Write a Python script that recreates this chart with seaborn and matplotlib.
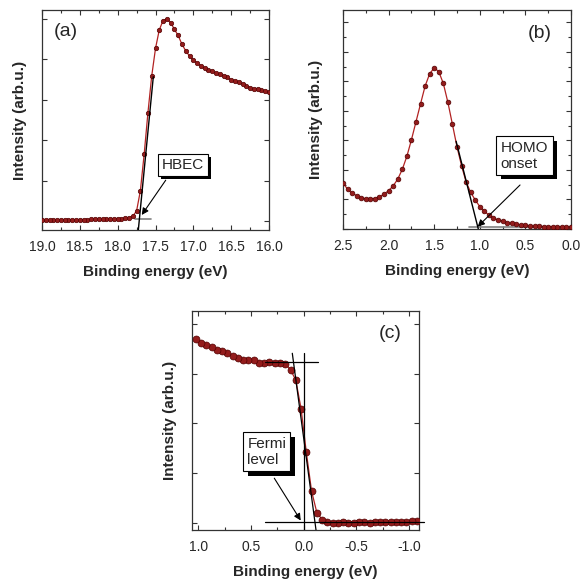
import numpy as np
import pandas as pd
import matplotlib
matplotlib.use('Agg')
import matplotlib.pyplot as plt
import matplotlib.patheffects as pe
from matplotlib.ticker import MultipleLocator
import seaborn as sns

sns.set_style('ticks')
plt.rcParams['font.family'] = ['Liberation Sans', 'DejaVu Sans']

# ---- panel (a): secondary electron cutoff ----
energy_a = np.round(np.arange(19.0, 15.99, -0.05), 2)
intensity_a = [0.02, 0.02, 0.02, 0.02, 0.02, 0.02, 0.02, 0.03, 0.03, 0.03,
               0.03, 0.03, 0.03, 0.04, 0.04, 0.04, 0.04, 0.04, 0.05, 0.05,
               0.05, 0.06, 0.07, 0.08, 0.12, 0.25, 0.75, 1.65, 2.68, 3.59,
               4.27, 4.73, 4.96, 5.00, 4.91, 4.74, 4.59, 4.37, 4.21, 4.08,
               3.98, 3.91, 3.84, 3.78, 3.74, 3.70, 3.66, 3.63, 3.59, 3.56,
               3.49, 3.47, 3.43, 3.39, 3.35, 3.30, 3.27, 3.26, 3.24, 3.22,
               3.19]

# ---- panel (b): HOMO region ----
energy_b = np.round(np.arange(2.5, -0.01, -0.05), 2)
intensity_b = [1.55, 1.35, 1.21, 1.13, 1.06, 1.02, 1.03, 1.03, 1.09, 1.18,
               1.30, 1.46, 1.69, 2.02, 2.46, 3.02, 3.63, 4.24, 4.84, 5.26,
               5.46, 5.33, 4.93, 4.29, 3.54, 2.78, 2.14, 1.59, 1.24, 0.98,
               0.76, 0.60, 0.47, 0.36, 0.31, 0.26, 0.21, 0.19, 0.16, 0.14,
               0.13, 0.10, 0.09, 0.09, 0.08, 0.08, 0.08, 0.07, 0.07, 0.06,
               0.06]

# ---- panel (c): Fermi edge ----
energy_c = np.round(np.arange(1.025, -1.08, -0.05), 3)
intensity_c = [3.70, 3.62, 3.57, 3.53, 3.48, 3.46, 3.42, 3.36, 3.32, 3.28,
               3.27, 3.27, 3.22, 3.22, 3.24, 3.21, 3.22, 3.20, 3.08, 2.87,
               2.30, 1.42, 0.64, 0.21, 0.07, 0.02, 0.00, 0.00, 0.01, 0.00,
               0.00, 0.01, 0.01, 0.00, 0.01, 0.01, 0.02, 0.01, 0.02, 0.02,
               0.02, 0.03, 0.03]

# construction lines: (x0, x1), (y0, y1)
tangent_a = ([17.727, 17.529], [-0.22, 3.57])
base_a = ([17.77, 17.56], [0.05, 0.05])
tangent_b = ([1.26, 1.015], [2.97, -0.02])
base_b = ([1.12, 0.0], [0.06, 0.06])
top_c = ([0.37, -0.14], [3.23, 3.23])
zero_c = ([0.0, 0.0], [3.41, -0.14])
tangent_c = ([0.108, -0.117], [3.41, -0.14])
base_c = ([0.37, -1.14], [0.02, 0.02])

DOT_FACE = '#931c1c'
DOT_EDGE = '#520000'
LINE_COL = '#b22222'
FRAME = '#333333'

fig = plt.figure(figsize=(5.81, 5.80), dpi=100)
ax_a = fig.add_axes([0.0723, 0.6034, 0.3907, 0.3793])
ax_b = fig.add_axes([0.5904, 0.6047, 0.3924, 0.3781])
ax_c = fig.add_axes([0.3305, 0.0862, 0.3907, 0.3776])


def draw_spectrum(ax, energy, intensity, ms):
    df = pd.DataFrame({'energy': energy, 'intensity': intensity})
    sns.lineplot(data=df, x='energy', y='intensity', ax=ax, color=LINE_COL,
                 lw=0.9, marker='o', markersize=ms, markerfacecolor=DOT_FACE,
                 markeredgecolor=DOT_EDGE, markeredgewidth=0.5, zorder=3)


def style_axes(ax, xlim, ylim, ymajor, yminor=None):
    ax.set_xlim(*xlim)
    ax.set_ylim(*ylim)
    ax.xaxis.set_major_locator(MultipleLocator(0.5))
    ax.xaxis.set_minor_locator(MultipleLocator(0.25))
    ax.yaxis.set_major_locator(MultipleLocator(ymajor))
    if yminor:
        ax.yaxis.set_minor_locator(MultipleLocator(yminor))
    ax.tick_params(which='both', direction='in', top=True, right=True,
                   color=FRAME, width=0.8)
    ax.tick_params(which='major', length=3.5)
    ax.tick_params(which='minor', length=2.2)
    ax.tick_params(axis='x', labelsize=10, pad=7)
    ax.tick_params(axis='y', labelleft=False)
    ax.xaxis.set_major_formatter(matplotlib.ticker.FormatStrFormatter('%.1f'))
    for s in ax.spines.values():
        s.set_color(FRAME)
        s.set_linewidth(0.9)
    ax.set_xlabel('Binding energy (eV)', fontsize=11, fontweight='bold', labelpad=8)
    ax.set_ylabel('Intensity (arb.u.)', fontsize=11, fontweight='bold', labelpad=11)


def shadow_box(ax, x, y, text, off):
    t = ax.text(x, y, text, ha='center', va='center', fontsize=11,
                multialignment='left', zorder=6,
                bbox=dict(boxstyle='square,pad=0.28', fc='white', ec='black', lw=0.8))
    t.get_bbox_patch().set_path_effects([
        pe.SimplePatchShadow(offset=(off, -off), shadow_rgbFace='black', alpha=1.0),
        pe.Normal()])


def arrow(ax, start, end):
    ax.annotate('', xy=end, xytext=start, zorder=5,
                arrowprops=dict(arrowstyle='-|>', color='black', lw=0.8,
                                mutation_scale=10, shrinkA=0, shrinkB=0))


# (a)
draw_spectrum(ax_a, energy_a, intensity_a, 3.2)
ax_a.plot(*tangent_a, color='black', lw=1.0, zorder=4)
ax_a.plot(*base_a, color='#808080', lw=1.2, zorder=2)
style_axes(ax_a, (19.0, 16.0), (-0.223, 5.22), 1.0)
shadow_box(ax_a, 17.137, 1.39, 'HBEC', 2.2)
arrow(ax_a, (17.365, 1.01), (17.682, 0.15))
ax_a.text(0.104, 0.902, '(a)', transform=ax_a.transAxes, fontsize=14,
          ha='center', va='center')

# (b)
draw_spectrum(ax_b, energy_b, intensity_b, 3.4)
ax_b.plot(*tangent_b, color='black', lw=1.0, zorder=4)
ax_b.plot(*base_b, color='#808080', lw=1.2, zorder=2)
style_axes(ax_b, (2.5, 0.0), (-0.01, 7.42), 1.0, 0.5)
shadow_box(ax_b, 0.51, 2.48, 'HOMO\nonset', 3.0)
arrow(ax_b, (0.559, 1.49), (1.023, 0.08))
ax_b.text(0.864, 0.895, '(b)', transform=ax_b.transAxes, fontsize=14,
          ha='center', va='center')

# (c)
draw_spectrum(ax_c, energy_c, intensity_c, 5.0)
for xs, ys in (top_c, zero_c, tangent_c):
    ax_c.plot(xs, ys, color='black', lw=0.9, zorder=4)
ax_c.plot(*base_c, color='black', lw=0.9, zorder=4, clip_on=False)
style_axes(ax_c, (1.06, -1.095), (-0.141, 4.26), 1.0)
shadow_box(ax_c, 0.351, 1.43, 'Fermi\nlevel', 3.6)
arrow(ax_c, (0.279, 0.90), (0.028, 0.05))
ax_c.text(0.872, 0.895, '(c)', transform=ax_c.transAxes, fontsize=14,
          ha='center', va='center')

fig.savefig('out.png', dpi=100)
